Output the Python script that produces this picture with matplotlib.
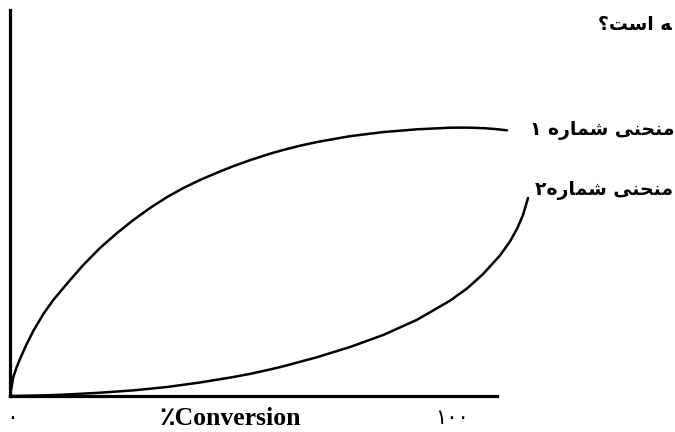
import matplotlib
matplotlib.use("Agg")
from matplotlib import pyplot as plt

W, H = 675, 432

# curve 1 (concave, upper) and curve 2 (convex, lower)
curve1_x = [0, 0.68, 1.38, 2.05, 3.43, 4.78, 6.84, 8.89, 11.64, 15.05, 18.48, 21.97,
            25.26, 28.75, 32.24, 35.52, 39.01, 42.51, 45.79, 49.28, 53.39, 56.06,
            59.55, 63.04, 69.82, 76.59, 83.57, 90.35, 93.84, 97.13, 99.59, 102.05]
curve1_y = [0, 4.92, 7.51, 9.59, 13.47, 16.84, 21.24, 24.87, 29.02, 33.94, 38.34, 42.21,
            45.53, 48.70, 51.53, 53.83, 55.96, 57.85, 59.51, 61.09, 62.77, 63.73,
            64.84, 65.80, 67.31, 68.37, 69.09, 69.51, 69.53, 69.40, 69.17, 68.83]

curve2_x = [0, 4.72, 8.21, 11.70, 18.48, 25.26, 32.24, 39.01, 45.79, 49.28, 53.39,
            56.06, 63.04, 69.82, 76.59, 83.57, 90.35, 93.84, 97.13, 100.62, 102.67,
            104.11, 105.34, 106.37]
curve2_y = [0, 0.10, 0.21, 0.39, 0.85, 1.45, 2.33, 3.50, 4.90, 5.73, 6.87,
            7.67, 10.05, 12.69, 15.78, 19.74, 24.69, 27.85, 31.58, 36.42, 40.05,
            43.32, 46.89, 51.30]

# Persian labels in visual (left-to-right) order with presentation forms,
# since matplotlib does no Arabic shaping
MANHANI = "\uFBFD\uFEE8\uFEA4\uFEE8\uFEE3"   # منحنی
SHOMARE = "\uFEE9\uFEAD\uFE8E\uFEE4\uFEB7"   # شماره
LABEL_1 = "\u06F1 " + SHOMARE + " " + MANHANI
LABEL_2 = "\u06F2" + SHOMARE + " " + MANHANI
QUESTION = "\u061F\uFE96\uFEB3\uFE8D \uFEEA"  # ...ه است؟
XLABEL = "\u066AConversion"
TICK_0 = "\u06F0"
TICK_100 = "\u06F1\u06F0\u06F0"


def main():
    fig = plt.figure(figsize=(W / 100, H / 100), dpi=100)
    ax = fig.add_axes([10 / W, 36 / H, 487 / W, 386 / H])
    ax.set_xlim(0, 100)
    ax.set_ylim(0, 100)

    for xs, ys in [(curve1_x, curve1_y), (curve2_x, curve2_y)]:
        ax.plot(xs, ys, color="black", linewidth=1.8, clip_on=False,
                solid_joinstyle="round", solid_capstyle="round")

    for side in ["top", "right"]:
        ax.spines[side].set_visible(False)
    for side in ["left", "bottom"]:
        ax.spines[side].set_linewidth(2.3)
    ax.set_xticks([])
    ax.set_yticks([])

    fa = ["DejaVu Sans"]
    ax.text(0.4, -5.7, TICK_0, family=fa, fontsize=16, ha="center", va="center", clip_on=False)
    ax.text(90.8, -5.7, TICK_100, family=fa, fontsize=15, ha="center", va="center", clip_on=False)
    ax.text(45.2, -5.7, XLABEL, family=["Liberation Serif", "DejaVu Sans"], fontsize=18.5,
            fontweight="bold", ha="center", va="center", clip_on=False)

    fig.text(530 / W, 1 - 130 / H, LABEL_1, family=fa, fontsize=13.5, fontweight="bold",
             ha="left", va="center")
    fig.text(535 / W, 1 - 190 / H, LABEL_2, family=fa, fontsize=13.5, fontweight="bold",
             ha="left", va="center")
    fig.text(598 / W, 1 - 25 / H, QUESTION, family=fa, fontsize=13.5, fontweight="bold",
             ha="left", va="center")

    fig.savefig("out.png", dpi=100)


if __name__ == "__main__":
    main()
